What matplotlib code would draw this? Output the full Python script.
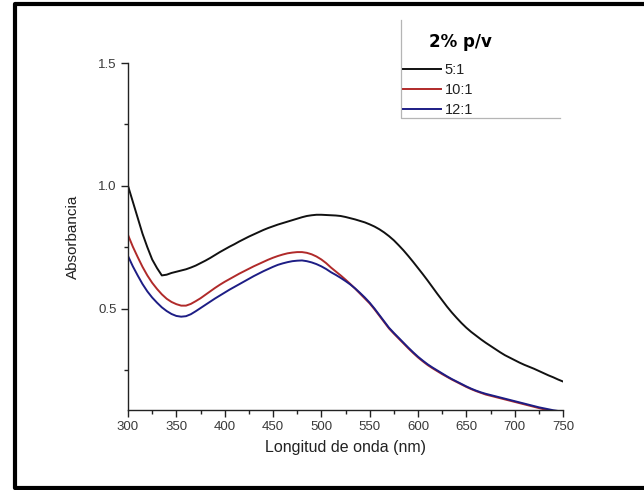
import numpy as np
import matplotlib
matplotlib.use('Agg')
import matplotlib.pyplot as plt
from matplotlib.lines import Line2D
from matplotlib.ticker import MultipleLocator

plt.rcParams['font.family'] = ['Liberation Sans', 'DejaVu Sans']

# wavelength grid (nm) and absorbance
wl = list(range(300, 751, 5))

abs_5_1 = [1.000, 0.935, 0.870, 0.805, 0.750, 0.700, 0.665, 0.635, 0.638, 0.645,
           0.650, 0.655, 0.660, 0.667, 0.675, 0.685, 0.695, 0.706, 0.718, 0.730,
           0.741, 0.752, 0.762, 0.773, 0.783, 0.793, 0.802, 0.811, 0.820, 0.828,
           0.835, 0.842, 0.848, 0.854, 0.860, 0.866, 0.872, 0.877, 0.880, 0.882,
           0.882, 0.881, 0.880, 0.879, 0.877, 0.873, 0.868, 0.863, 0.857, 0.851,
           0.843, 0.834, 0.823, 0.810, 0.795, 0.778, 0.758, 0.737, 0.714, 0.690,
           0.665, 0.640, 0.614, 0.587, 0.560, 0.534, 0.508, 0.484, 0.462, 0.441,
           0.422, 0.405, 0.390, 0.375, 0.361, 0.348, 0.335, 0.322, 0.310, 0.300,
           0.290, 0.280, 0.271, 0.263, 0.255, 0.246, 0.237, 0.228, 0.220, 0.211,
           0.203]

abs_10_1 = [0.800, 0.752, 0.710, 0.670, 0.635, 0.605, 0.580, 0.558, 0.540, 0.527,
            0.518, 0.512, 0.512, 0.519, 0.530, 0.542, 0.556, 0.570, 0.584, 0.597,
            0.609, 0.620, 0.631, 0.642, 0.652, 0.662, 0.672, 0.681, 0.690, 0.699,
            0.707, 0.714, 0.720, 0.725, 0.728, 0.730, 0.730, 0.727, 0.721, 0.712,
            0.700, 0.685, 0.667, 0.651, 0.635, 0.618, 0.600, 0.581, 0.561, 0.541,
            0.521, 0.497, 0.471, 0.445, 0.419, 0.398, 0.378, 0.358, 0.338, 0.319,
            0.301, 0.285, 0.270, 0.257, 0.245, 0.233, 0.222, 0.211, 0.201, 0.191,
            0.181, 0.172, 0.164, 0.157, 0.150, 0.145, 0.140, 0.135, 0.130, 0.125,
            0.120, 0.115, 0.110, 0.105, 0.100, 0.095, 0.090, 0.086, 0.082, 0.078,
            0.075]

abs_12_1 = [0.714, 0.672, 0.635, 0.600, 0.570, 0.545, 0.524, 0.505, 0.490, 0.478,
            0.470, 0.467, 0.469, 0.477, 0.489, 0.502, 0.515, 0.528, 0.541, 0.553,
            0.565, 0.577, 0.588, 0.599, 0.610, 0.621, 0.632, 0.642, 0.652, 0.661,
            0.670, 0.678, 0.684, 0.689, 0.693, 0.695, 0.696, 0.693, 0.688, 0.681,
            0.672, 0.661, 0.648, 0.637, 0.625, 0.612, 0.598, 0.582, 0.564, 0.545,
            0.524, 0.500, 0.474, 0.448, 0.422, 0.401, 0.381, 0.361, 0.341, 0.322,
            0.304, 0.288, 0.273, 0.260, 0.248, 0.236, 0.224, 0.213, 0.203, 0.193,
            0.183, 0.174, 0.166, 0.159, 0.153, 0.148, 0.143, 0.138, 0.133, 0.128,
            0.123, 0.118, 0.113, 0.108, 0.103, 0.098, 0.094, 0.090, 0.086, 0.083,
            0.080]

labels = ['5:1', '10:1', '12:1']
colors = ['#111111', '#b02a2a', '#1d1d85']

fig = plt.figure(figsize=(6.44, 4.9), dpi=100)
ax = fig.add_axes([128/644, 80/490, 435/644, 347/490])

for y, lab, c in zip([abs_5_1, abs_10_1, abs_12_1], labels, colors):
    ax.plot(wl, y, color=c, lw=1.4, label=lab)

ax.set_xlim(300, 750)
ax.set_ylim(0.087, 1.5)
ax.xaxis.set_major_locator(MultipleLocator(50))
ax.xaxis.set_minor_locator(MultipleLocator(25))
ax.yaxis.set_minor_locator(MultipleLocator(0.25))
ax.set_yticks([0.5, 1.0, 1.5])
ax.set_yticklabels(['0.5', '1.0', '1.5'])

for s in ['top', 'right']:
    ax.spines[s].set_visible(False)
for s in ['left', 'bottom']:
    ax.spines[s].set_color('#222222')
    ax.spines[s].set_linewidth(1.0)

ax.tick_params(which='major', direction='out', length=5, width=1, colors='#222222',
               labelsize=9.5, labelcolor='#3a3a3a', pad=3)
ax.tick_params(which='minor', direction='out', length=3, width=1, colors='#222222')

ax.set_xlabel('Longitud de onda (nm)', fontsize=11.5, color='#222222', labelpad=5)
ax.set_ylabel('Absorbancia', fontsize=11, color='#222222', labelpad=13)

# legend, no frame; box edges drawn by hand below
leg = fig.legend(loc='upper left', bbox_to_anchor=(403/644, 1 - 63/490),
                 frameon=False, fontsize=10.5, handlelength=2.6,
                 handletextpad=0.25, labelspacing=0.4, borderpad=0,
                 borderaxespad=0)
for t in leg.get_texts():
    t.set_color('#222222')

fig.text(460/644, 1 - 42/490, '2% p/v', fontsize=12, fontweight='bold',
         family=['DejaVu Sans'], ha='center', va='center')

fig.add_artist(Line2D([401/644, 401/644, 560/644], [1 - 20/490, 1 - 118/490, 1 - 118/490],
                      transform=fig.transFigure, color='#b5b5b5', lw=0.9))

# black frame round the figure (right side is cut off in the original)
fig.add_artist(Line2D([1.01, 14.5/644, 14.5/644, 1.01], [1 - 4/490, 1 - 4/490, 1 - 488/490, 1 - 488/490],
                      transform=fig.transFigure, color='black', lw=3))

fig.savefig('out.png', dpi=100)
